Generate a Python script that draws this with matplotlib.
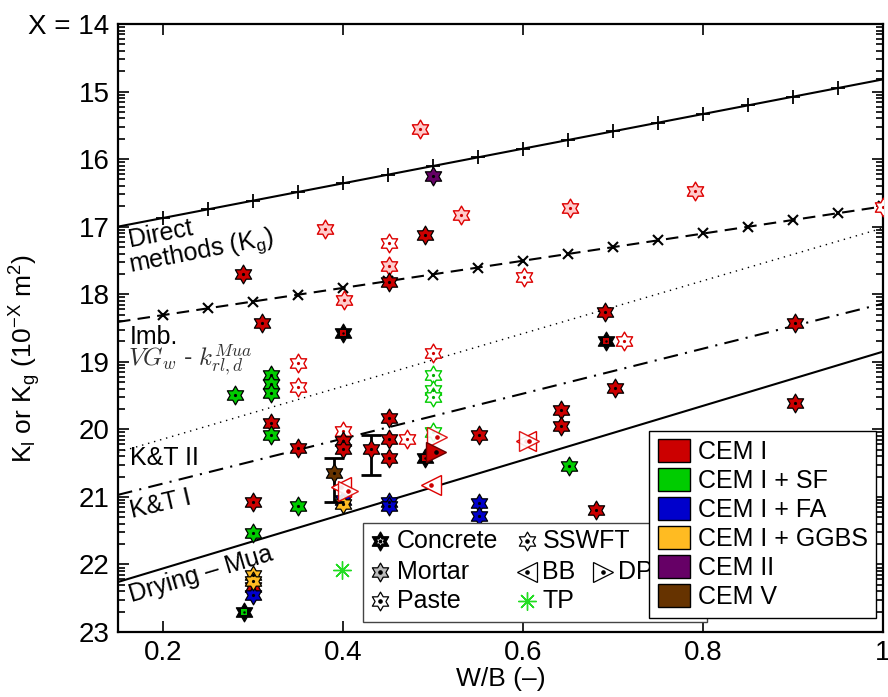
import numpy as np
import matplotlib
matplotlib.use('Agg')
import matplotlib.pyplot as plt
from matplotlib.path import Path
from matplotlib.patches import Patch, Rectangle
from matplotlib.ticker import FixedLocator, FixedFormatter, LogLocator, NullFormatter

plt.rcParams['font.family'] = ['Liberation Sans', 'DejaVu Sans']
plt.rcParams['mathtext.fontset'] = 'custom'
plt.rcParams['mathtext.rm'] = 'Liberation Sans'
plt.rcParams['mathtext.it'] = 'Liberation Sans:italic'

# ---- model lines: W/B -> exponent X (K = 10^-X m^2) ----
direct_wb = [0.15, 1.0]
direct_X = [17.0, 14.82]
direct_mk_wb = [0.2, 0.25, 0.3, 0.35, 0.4, 0.45, 0.5, 0.55, 0.6, 0.65, 0.7, 0.75, 0.8, 0.85, 0.9, 0.95, 1.0]
direct_mk_X = [16.87, 16.74, 16.62, 16.49, 16.36, 16.23, 16.10, 15.97, 15.85, 15.72, 15.59, 15.46, 15.33, 15.20, 15.08, 14.95, 14.82]

imb_wb = [0.15, 1.0]
imb_X = [18.41, 16.70]
imb_mk_wb = direct_mk_wb
imb_mk_X = [18.31, 18.21, 18.11, 18.01, 17.91, 17.81, 17.71, 17.61, 17.51, 17.41, 17.30, 17.20, 17.10, 17.00, 16.90, 16.80, 16.70]

vg_wb = [0.15, 1.0]
vg_X = [20.34, 17.02]
kt1_wb = [0.15, 1.0]
kt1_X = [20.97, 18.14]
dry_wb = [0.15, 1.0]
dry_X = [22.26, 18.85]

# ---- mortar-type filled stars by cement ----
cem1_wb = [0.289, 0.310, 0.320, 0.350, 0.300, 0.300, 0.400, 0.400, 0.451, 0.451, 0.451, 0.451,
           0.491, 0.551, 0.642, 0.642, 0.681, 0.691, 0.702, 0.902, 0.902]
cem1_X = [17.70, 18.42, 19.90, 20.27, 21.07, 22.33, 20.18, 20.29, 17.82, 19.83, 20.14, 20.42,
          17.12, 20.09, 19.72, 19.95, 21.20, 18.26, 19.39, 18.42, 19.61]
sf_wb = [0.280, 0.320, 0.320, 0.320, 0.320, 0.350, 0.300, 0.651]
sf_X = [19.49, 19.19, 19.33, 19.46, 20.09, 21.14, 21.53, 20.55]
fa_wb = [0.300, 0.400, 0.451, 0.451, 0.551, 0.551]
fa_X = [22.45, 21.05, 21.07, 21.14, 21.09, 21.29]
ggbs_wb = [0.300, 0.300, 0.400]
ggbs_X = [22.15, 22.25, 21.10]
cem2_wb = [0.500]
cem2_X = [16.25]

# points with error bars (centre, low, high)
err_wb = [0.431, 0.390]
err_X = [20.29, 20.64]
err_lo = [20.09, 20.42]
err_hi = [20.67, 21.07]
err_cols = ['#CC0000', '#663300']

# concrete (black star, coloured core)
conc_wb = [0.400, 0.491, 0.692, 0.290]
conc_X = [18.57, 20.42, 18.69, 22.71]
conc_cols = ['#CC0000', '#CC0000', '#CC0000', '#00CC00']

# paste
paste_pink_wb = [0.486, 0.380, 0.531, 0.652, 0.791, 0.451, 0.401]
paste_pink_X = [15.55, 17.03, 16.83, 16.72, 16.47, 17.58, 18.08]
paste_white_wb = [0.451, 0.601, 0.350, 0.350, 0.400, 0.471, 0.712, 0.500, 1.0]
paste_white_X = [17.24, 17.74, 19.02, 19.37, 20.02, 20.15, 18.69, 18.87, 16.71]
paste_sf_wb = [0.500, 0.500, 0.500, 0.500]
paste_sf_X = [19.20, 19.42, 19.52, 20.04]

# other methods
bb_wb = [0.498, 0.603, 0.398]
bb_X = [20.83, 20.17, 20.85]
dp_wb = [0.504, 0.607, 0.405]
dp_X = [20.11, 20.17, 20.92]
dp_fill_wb = [0.503]
dp_fill_X = [20.33]
tp_wb = [0.399]
tp_X = [22.08]

cement_names = ['CEM I', 'CEM I + SF', 'CEM I + FA', 'CEM I + GGBS', 'CEM II', 'CEM V']
cement_cols = ['#CC0000', '#00CC00', '#0000CC', '#FFBB22', '#660066', '#663300']

yticks = list(range(14, 24))
ytick_labels = ['X = 14'] + [str(v) for v in yticks[1:]]
xticks = [0.2, 0.4, 0.6, 0.8, 1.0]
xtick_labels = ['0.2', '0.4', '0.6', '0.8', '1']


def K(X):
    return 10.0 ** (-np.asarray(X, dtype=float))


# six-pointed star marker
ang = np.deg2rad(90 + 30 * np.arange(12))
rad = np.where(np.arange(12) % 2 == 0, 1.0, 1 / np.sqrt(3))
verts = np.column_stack([rad * np.cos(ang), rad * np.sin(ang)])
verts = np.vstack([verts, verts[:1]])
HEX = Path(verts, [Path.MOVETO] + [Path.LINETO] * 11 + [Path.CLOSEPOLY])

MS = 13.5

fig = plt.figure(figsize=(8.88, 6.97), dpi=100)
ax = fig.add_axes([0.1329, 0.0933, 0.8615, 0.8723])
ax.set_yscale('log')


def stars(wb, X, face, edge, dot, ms=MS, mew=0.9, z=3):
    ax.plot(wb, K(X), ls='none', marker=HEX, ms=ms, mfc=face, mec=edge, mew=mew, zorder=z)
    ax.plot(wb, K(X), ls='none', marker='o', ms=2.3, mfc=dot, mec=dot, mew=0, zorder=z)


# lines
ax.plot(direct_wb, K(direct_X), '-', color='k', lw=1.5, zorder=2)
ax.plot(direct_mk_wb, K(direct_mk_X), ls='none', marker='+', ms=10, mew=1.3, color='k', zorder=2)
ax.plot(imb_wb, K(imb_X), color='k', lw=1.5, ls=(0, (6, 3.5)), zorder=2)
ax.plot(imb_mk_wb, K(imb_mk_X), ls='none', marker='x', ms=7, mew=1.5, color='k', zorder=2)
ax.plot(vg_wb, K(vg_X), color='k', lw=1.0, ls=(0, (1, 3.5)), zorder=2)
ax.plot(kt1_wb, K(kt1_X), color='k', lw=1.5, ls=(0, (7, 3.5, 1, 3.5)), zorder=2)
ax.plot(dry_wb, K(dry_X), '-', color='k', lw=1.5, zorder=2)

# paste
stars(paste_pink_wb, paste_pink_X, '#FFCCCC', '#DD0000', '#CC0000', mew=1.0)
stars(paste_white_wb, paste_white_X, 'white', '#DD0000', '#CC0000', mew=1.0)
stars(paste_sf_wb, paste_sf_X, 'white', '#00CC00', '#00AA00', mew=1.0)

# mortar
stars(cem1_wb, cem1_X, cement_cols[0], 'k', 'k')
stars(sf_wb, sf_X, cement_cols[1], 'k', 'k')
stars(fa_wb, fa_X, cement_cols[2], 'k', 'k')
stars(ggbs_wb, ggbs_X, cement_cols[3], 'k', 'k')
stars(cem2_wb, cem2_X, cement_cols[4], 'k', 'k')

# error bar points
for w, x, lo, hi, c in zip(err_wb, err_X, err_lo, err_hi, err_cols):
    ax.errorbar([w], K([x]), yerr=[K([x]) - K([hi]), K([lo]) - K([x])], fmt='none',
                ecolor='k', elinewidth=2, capsize=7, capthick=2, zorder=3)
    stars([w], [x], c, 'k', 'k', z=4)

# concrete
for w, x, c in zip(conc_wb, conc_X, conc_cols):
    ax.plot([w], K([x]), ls='none', marker=HEX, ms=MS, mfc='k', mec='k', mew=0.9, zorder=4)
    ax.plot([w], K([x]), ls='none', marker='s', ms=4.5, mfc=c, mec=c, mew=0, zorder=4)
    ax.plot([w], K([x]), ls='none', marker='o', ms=1.8, mfc='k', mec='k', mew=0, zorder=4)

# triangles (BB, DP) and TP
ax.plot(bb_wb, K(bb_X), ls='none', marker='<', ms=15, mfc='white', mec='#DD0000', mew=1.0, zorder=4)
ax.plot(bb_wb, K(bb_X), ls='none', marker='o', ms=2.3, mfc='#CC0000', mec='#CC0000', zorder=4)
ax.plot(dp_wb, K(dp_X), ls='none', marker='>', ms=15, mfc='white', mec='#DD0000', mew=1.0, zorder=4,
        alpha=0.9)
ax.plot(dp_wb, K(dp_X), ls='none', marker='o', ms=2.3, mfc='#CC0000', mec='#CC0000', zorder=4)
ax.plot(dp_fill_wb, K(dp_fill_X), ls='none', marker='>', ms=14, mfc='#CC0000', mec='#660000', mew=1.0, zorder=4)
ax.plot(dp_fill_wb, K(dp_fill_X), ls='none', marker='o', ms=2.3, mfc='k', mec='k', zorder=4)
ax.plot(tp_wb, K(tp_X), ls='none', marker=(8, 2, 0), ms=13, mec='#22DD22', mew=1.0, zorder=4)

# axes styling
ax.set_xlim(0.15, 1.0)
ax.set_ylim(1e-23, 1e-14)
ax.xaxis.set_major_locator(FixedLocator(xticks))
ax.xaxis.set_major_formatter(FixedFormatter(xtick_labels))
ax.yaxis.set_major_locator(FixedLocator(K(yticks)))
ax.yaxis.set_major_formatter(FixedFormatter(ytick_labels))
ax.yaxis.set_minor_locator(LogLocator(base=10, subs=np.arange(2, 10), numticks=20))
ax.yaxis.set_minor_formatter(NullFormatter())
ax.tick_params(which='both', direction='in', top=True, right=True, width=1.2, labelsize=20)
ax.tick_params(which='major', length=8, pad=6)
ax.tick_params(which='minor', length=5)
for s in ax.spines.values():
    s.set_linewidth(1.6)

ax.set_ylabel(r'K$_{\rm l}$ or K$_{\rm g}$ (10$^{-{\rm X}}$ m$^{2}$)', fontsize=19)
ax.yaxis.set_label_coords(-0.098, 0.45)
ax.set_xlabel('W/B (–)', fontsize=19, va='top')
ax.xaxis.set_label_coords(0.5, -0.057)

# line annotations
tk = dict(transform=ax.transAxes, ha='left', va='baseline', rotation_mode='anchor', fontsize=18, zorder=5)
ax.text(0.0157, 0.633, 'Direct', rotation=11, **tk)
ax.text(0.0157, 0.592, r'methods (K$_{\rm g}$)', rotation=11, **tk)
ax.text(0.0157, 0.474, 'Imb.', **tk)
ax.text(0.013, 0.437, r'$VG_w$ - $k_{rl,d}^{Mua}$', transform=ax.transAxes, ha='left', va='baseline',
        fontsize=18, color='#333333', math_fontfamily='cm')
ax.text(0.0157, 0.275, 'K&T II', **tk)
ax.text(0.018, 0.1875, 'K&T I', rotation=13, **tk)
ax.text(0.018, 0.049, 'Drying – Mua', rotation=16.5, **tk)

# legend 1 (sample / method), drawn by hand
ax.add_patch(Rectangle((0.3198, 0.0164), 0.45, 0.163, transform=ax.transAxes, facecolor='white',
                       edgecolor='#444444', lw=1.0, zorder=6))
rows = [0.1497, 0.0987, 0.051]
lk = dict(transform=ax.transAxes, clip_on=False, ls='none', zorder=7)
tx = dict(transform=ax.transAxes, ha='left', va='center', fontsize=18, zorder=7)
c1, t1, c2, t2, c3, t3 = 0.342, 0.3642, 0.534, 0.5548, 0.634, 0.653
# Concrete
ax.plot([c1], [rows[0]], marker=HEX, ms=MS, mfc='k', mec='k', **lk)
ax.plot([c1], [rows[0]], marker=HEX, ms=5.5, mfc='white', mec='white', mew=0, **lk)
ax.plot([c1], [rows[0]], marker='o', ms=1.8, mfc='k', mec='k', **lk)
ax.text(t1, rows[0], 'Concrete', **tx)
# Mortar
ax.plot([c1], [rows[1]], marker=HEX, ms=MS, mfc='#BBBBBB', mec='k', mew=0.9, **lk)
ax.plot([c1], [rows[1]], marker='o', ms=2.3, mfc='k', mec='k', **lk)
ax.text(t1, rows[1], 'Mortar', **tx)
# Paste
ax.plot([c1], [rows[2]], marker=HEX, ms=MS, mfc='white', mec='k', mew=0.9, **lk)
ax.plot([c1], [rows[2]], marker='o', ms=2.3, mfc='k', mec='k', **lk)
ax.text(t1, rows[2], 'Paste', **tx)
# SSWFT
ax.plot([c2], [rows[0]], marker=HEX, ms=MS, mfc='white', mec='k', mew=0.9, **lk)
ax.plot([c2], [rows[0]], marker='o', ms=2.3, mfc='k', mec='k', **lk)
ax.text(t2, rows[0], 'SSWFT', **tx)
# BB
ax.plot([c2], [rows[1]], marker='<', ms=14, mfc='white', mec='k', mew=0.9, **lk)
ax.plot([c2], [rows[1]], marker='o', ms=2.3, mfc='k', mec='k', **lk)
ax.text(t2, rows[1], 'BB', **tx)
# DP
ax.plot([c3], [rows[1]], marker='>', ms=14, mfc='white', mec='k', mew=0.9, **lk)
ax.plot([c3], [rows[1]], marker='o', ms=2.3, mfc='k', mec='k', **lk)
ax.text(t3, rows[1], 'DP', **tx)
# TP
ax.plot([c2], [rows[2]], marker=(8, 2, 0), ms=13, mec='#22DD22', mew=1.0, **lk)
ax.text(t2, rows[2], 'TP', **tx)

# legend 2 (cement type)
handles = [Patch(facecolor=c, edgecolor='k', lw=1.0, label=n) for c, n in zip(cement_cols, cement_names)]
leg = ax.legend(handles=handles, loc='lower left', bbox_to_anchor=(0.6945, 0.023), fontsize=18,
                frameon=True, fancybox=False, edgecolor='k', framealpha=1, borderaxespad=0,
                handlelength=1.28, handleheight=1.0, handletextpad=0.3, labelspacing=0.17,
                borderpad=0.35)
leg.get_frame().set_linewidth(1.0)
leg.set_zorder(10)

fig.savefig('out.png', dpi=100)
